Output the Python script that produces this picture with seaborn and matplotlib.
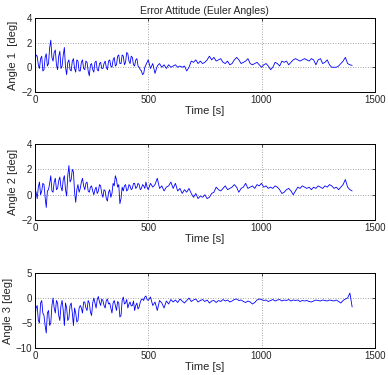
import numpy as np
import pandas as pd
import matplotlib as mpl
from matplotlib import pyplot as plt
import seaborn as sns

# sample times [s]: finer sampling in the noisy first 500 s
time_s = np.concatenate([np.arange(0, 500, 5), np.arange(500, 1401, 10)])

angle1 = [0.4, 1.0, 0.9, 0.2, -0.1, 0.7, 0.9, -0.3, -0.2, 0.8,
          1.1, 0.1, 0.3, 1.6, 2.2, 0.8, 0.5, 1.2, 1.4, 0.2,
          -0.2, 0.9, 1.3, -0.1, 0.1, 1.0, 1.6, 0.0, -0.6, 0.4,
          0.6, -0.2, -0.3, 0.5, 0.7, -0.1, -0.4, 0.6, 0.5, -0.3,
          -0.3, 0.4, 0.6, -0.1, -0.2, 0.5, 0.4, -0.3, -0.7, 0.2,
          0.3, -0.2, -0.4, 0.4, 0.5, -0.2, -0.3, 0.3, 0.4, -0.1,
          -0.1, 0.3, 0.5, 0.0, -0.2, 0.5, 0.6, 0.1, 0.0, 0.6,
          0.8, 0.1, 0.2, 0.9, 1.0, 0.3, 0.3, 1.0, 0.9, 0.2,
          0.4, 1.2, 1.1, 0.5, 0.3, 0.9, 0.8, 0.2, 0.1, 0.6,
          0.7, 0.1, 0.0, -0.2, -0.3, -0.6, -0.5, 0.0, 0.2, 0.4,
          0.6, -0.1, 0.3, -0.5, 0.1, 0.3, 0.0, 0.2, -0.1, 0.2,
          0.0, 0.1, 0.2, 0.0, 0.1, 0.0, 0.1, -0.3, 0.0, 0.5,
          0.4, 0.6, 0.3, 0.5, 0.3, 0.4, 0.6, 0.9, 0.6, 0.8,
          0.5, 0.6, 0.7, 0.4, 0.3, 0.5, 0.2, 0.3, 0.6, 0.8,
          0.6, 0.3, 0.4, 0.5, 0.7, 0.3, 0.2, 0.3, 0.4, 0.2,
          0.0, 0.2, 0.3, 0.1, -0.2, 0.0, 0.4, 0.3, 0.1, 0.5,
          0.4, 0.5, 0.2, 0.4, 0.6, 0.7, 0.6, 0.5, 0.6, 0.7,
          0.6, 0.5, 0.7, 0.6, 0.2, 0.6, 0.7, 0.3, 0.4, 0.6,
          0.2, 0.0, 0.0, 0.0, 0.1, 0.3, 0.5, 0.8, 0.3, 0.2,
          0.15]

angle2 = [0.5, 0.2, -0.3, 0.6, 1.0, 0.0, 0.3, 0.9, 0.8, -0.2,
          -1.0, 0.3, 0.4, 0.9, 1.5, 0.3, 0.2, 1.0, 1.3, 0.4,
          0.5, 1.1, 1.4, 0.6, 0.3, 1.2, 1.5, 0.4, -0.1, 1.5,
          2.3, 1.0, 1.2, 2.0, 1.8, 0.2, -0.6, 0.4, 0.8, 0.2,
          0.5, 1.0, 1.3, 0.7, 0.4, 0.9, 1.0, 0.3, 0.2, 0.6,
          0.7, 0.3, 0.0, 0.4, 0.6, 0.1, 0.3, 0.8, 0.7, 0.1,
          -0.2, 0.4, 0.3, -0.3, -0.5, 0.2, 0.4, -0.2, 0.1, 0.9,
          0.7, 1.5, 1.2, 0.6, 0.8, -0.7, -0.3, 0.6, 0.3, 0.7,
          0.8, 0.3, 0.4, 0.8, 0.7, 0.4, 0.5, 0.9, 0.9, 0.5,
          0.6, 0.9, 0.8, 0.4, 0.5, 0.8, 0.7, 0.5, 1.0, 0.6,
          0.4, 0.9, 0.6, 0.8, 1.3, 0.5, 0.7, 0.3, 0.6, 0.7,
          1.0, 0.5, 0.9, 0.3, 0.5, 0.1, 0.4, 0.2, 0.5, 0.1,
          -0.2, 0.1, -0.3, -0.1, -0.2, 0.0, -0.3, -0.2, 0.1, 0.2,
          0.6, 0.4, 0.3, 0.5, 0.7, 0.4, 0.5, 0.6, 0.8, 0.6,
          0.2, 0.5, 0.6, 0.9, 0.5, 0.6, 0.7, 0.5, 0.8, 0.7,
          0.9, 0.6, 0.7, 0.5, 0.6, 0.5, 0.7, 0.6, 0.4, 0.1,
          0.2, 0.4, 0.5, 0.3, 0.0, 0.3, 0.6, 0.5, 0.7, 0.6,
          0.5, 0.6, 0.4, 0.6, 0.5, 0.7, 0.6, 0.5, 0.7, 0.6,
          0.8, 0.7, 0.5, 0.6, 0.4, 0.6, 0.8, 1.2, 0.6, 0.4,
          0.3]

angle3 = [-4.0, -2.0, -1.5, -4.5, -5.0, -1.0, -0.5, -3.0, -3.5, -5.5,
          -7.0, -3.0, -2.5, -5.5, -5.0, -1.5, 0.0, -2.0, -3.0, -0.5,
          -1.0, -3.5, -4.5, -1.5, -0.5, -2.5, -5.5, -1.0, -2.0, -4.5,
          -4.0, -1.5, -1.0, -3.0, -5.5, -2.0, -3.0, -4.8, -4.5, -2.0,
          -1.5, -2.0, -3.0, -0.8, -0.8, -2.0, -2.5, -0.5, -1.0, -2.8,
          -3.5, -1.0, 0.0, -1.0, -2.0, -0.3, 0.3, -0.8, -1.5, -0.2,
          -0.5, -1.5, -2.0, -0.5, -0.2, -1.2, -1.0, -2.0, -3.0, -1.0,
          -0.5, -1.5, -2.5, -0.7, -1.0, -3.8, -3.5, -0.5, 0.2, -1.2,
          -1.0, -0.3, -2.0, -1.2, -0.8, -1.6, -1.5, -0.6, -2.5, -1.5,
          -1.0, -2.2, -1.8, -0.8, -0.3, -0.2, -0.5, 0.2, 0.4, -0.3,
          -0.5, 0.2, -1.5, -0.8, -2.5, -0.5, -1.0, -2.0, -0.6, -1.2,
          -0.3, -0.8, -0.4, -0.9, -0.2, -0.6, -1.0, -0.5, 0.0, -0.7,
          -0.4, -0.2, -0.8, -0.5, -0.3, -0.7, -0.4, -1.0, -0.6, -0.5,
          -0.9, -0.5, -0.7, -0.3, -0.6, -0.4, -0.8, -0.6, -0.3, -0.2,
          -0.5, -0.4, -0.7, -0.9, -0.6, -0.8, -1.2, -0.9, -0.4, -0.2,
          -0.3, -0.5, -0.4, -0.7, -0.5, -0.3, -0.6, -0.4, -0.3, -0.6,
          -0.4, -0.5, -0.3, -0.6, -0.4, -0.5, -0.4, -0.7, -0.5, -0.6,
          -0.5, -0.7, -0.8, -0.6, -0.4, -0.5, -0.6, -0.4, -0.5, -0.6,
          -0.4, -0.5, -0.6, -0.4, -0.7, -1.0, -0.5, -0.2, 0.0, 1.0,
          -1.8]

y_labels = ["Angle 1  [deg]", "Angle 2 [deg]", "Angle 3 [deg]"]
y_ticks = [[-2, 0, 2, 4], [-2, 0, 2, 4], [-10, -5, 0, 5]]
x_ticks = [0, 500, 1000, 1500]

sns.set_style("white")
plt.rcParams['font.family'] = ['Liberation Sans', 'DejaVu Sans']

data = pd.DataFrame({"time": time_s, "a1": angle1, "a2": angle2, "a3": angle3})

fig = plt.figure(figsize=(3.88, 3.75), dpi=100)
boxes = [[0.090, 0.755, 0.876, 0.197],
         [0.090, 0.413, 0.876, 0.203],
         [0.090, 0.072, 0.876, 0.200]]

for i, col in enumerate(["a1", "a2", "a3"]):
    ax = fig.add_axes(boxes[i])
    sns.lineplot(data=data, x="time", y=col, ax=ax, color=(0, 0, 1),
                 linewidth=0.6, estimator=None)
    ax.set_xlim(0, 1500)
    ax.set_ylim(y_ticks[i][0], y_ticks[i][-1])
    ax.set_xticks(x_ticks)
    ax.set_yticks(y_ticks[i])
    ax.grid(True, linestyle=(0, (1, 2)), color="#888888", linewidth=0.6)
    ax.tick_params(direction="in", top=True, right=True, length=2.5,
                   width=0.6, labelsize=7, pad=2)
    for s in ax.spines.values():
        s.set_linewidth(0.7)
        s.set_color("black")
    ax.set_xlabel("Time [s]", fontsize=8, labelpad=1)
    ax.set_ylabel(y_labels[i], fontsize=8, labelpad=2)
    if i == 0:
        ax.set_title("Error Attitude (Euler Angles)", fontsize=7.5, pad=3)

fig.savefig("out.png", dpi=100)
